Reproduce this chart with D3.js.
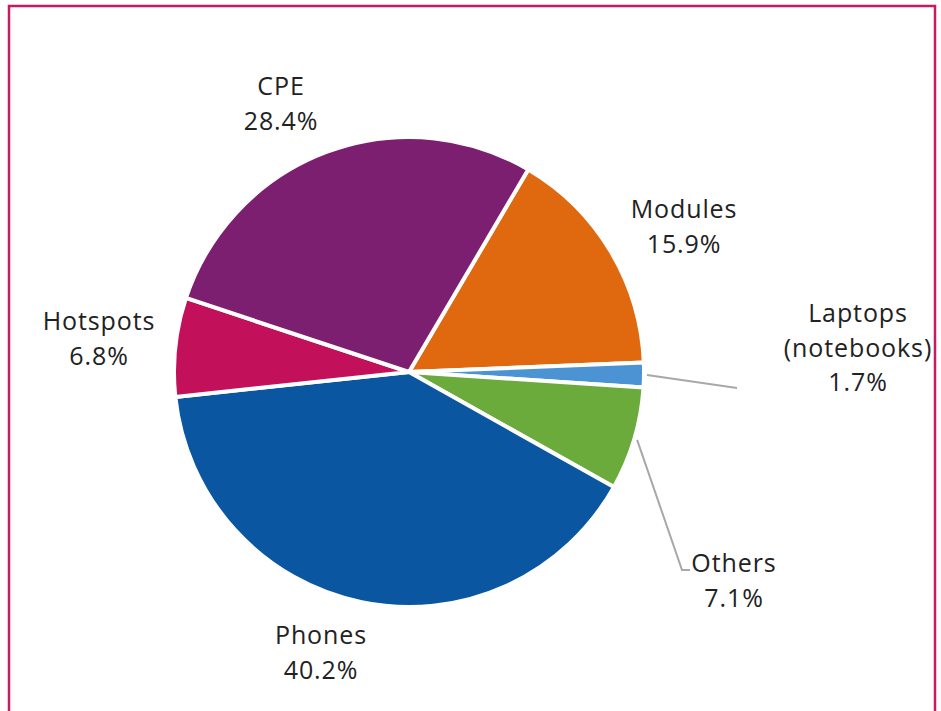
<!DOCTYPE html>
<html>
<head>
<meta charset="utf-8">
<script src="https://cdn.jsdelivr.net/npm/d3@7"></script>
<style>
  html, body { margin: 0; padding: 0; background: #fff; }
  svg { display: block; }
  text { font-family: "Open Sans", "Noto Sans", sans-serif; fill: #222; }
</style>
</head>
<body>
<svg id="chart" width="941" height="711"></svg>
<script>
// Shipment share by device type (%), clockwise from the CPE/Modules boundary
const categories = ["Modules", "Laptops", "Others", "Phones", "Hotspots", "CPE"];
const shares = [15.9, 1.7, 7.1, 40.2, 6.8, 28.4];
const labelLines = {
  Modules: ["Modules"],
  Laptops: ["Laptops", "(notebooks)"],
  Others: ["Others"],
  Phones: ["Phones"],
  Hotspots: ["Hotspots"],
  CPE: ["CPE"]
};
const colors = ["#e0690f", "#4b93d3", "#6aab3b", "#0a56a0", "#c3105a", "#7c1f70"];

const W = 941, H = 711;
const cx = 409, cy = 372, R = 235;
const startDeg = 30.5;

// Label anchor (text centre x, first baseline y) and optional leader elbow
const labelLayout = {
  CPE:      { x: 281, y: 95 },
  Modules:  { x: 684, y: 218 },
  Laptops:  { x: 858, y: 322, leader: [[737, 388]] },
  Others:   { x: 734, y: 572, leader: [[682, 570], [690, 570]] },
  Phones:   { x: 321, y: 644 },
  Hotspots: { x: 99,  y: 330 }
};
const lineGap = 34.5;

const svg = d3.select("#chart");

// Frame
svg.append("path")
  .attr("d", `M9,${H + 5} V6 H935 V${H + 5}`)
  .attr("fill", "none")
  .attr("stroke", "#c81a60")
  .attr("stroke-width", 2.5);

const color = d3.scaleOrdinal().domain(categories).range(colors);

const start = startDeg * Math.PI / 180;
const pie = d3.pie()
  .sort(null)
  .value(d => d.value)
  .startAngle(start)
  .endAngle(start + 2 * Math.PI);

const data = categories.map((c, i) => ({ name: c, value: shares[i] }));
const arcs = pie(data);

const arc = d3.arc().innerRadius(0).outerRadius(R);
const edgeArc = d3.arc().innerRadius(R + 3).outerRadius(R + 3);

const g = svg.append("g").attr("transform", `translate(${cx},${cy})`);

g.selectAll("path.slice")
  .data(arcs)
  .join("path")
  .attr("class", "slice")
  .attr("d", arc)
  .attr("fill", d => color(d.data.name))
  .attr("stroke", "#fff")
  .attr("stroke-width", 4)
  .attr("stroke-linejoin", "round");

// Leader lines for the small slices
arcs.forEach(d => {
  const lay = labelLayout[d.data.name];
  if (!lay.leader) return;
  const [px, py] = edgeArc.centroid(d);
  const pts = [[px + cx, py + cy]].concat(lay.leader);
  svg.append("path")
    .attr("d", d3.line()(pts))
    .attr("fill", "none")
    .attr("stroke", "#a8a8a8")
    .attr("stroke-width", 2);
});

// Labels: name lines followed by the share
arcs.forEach(d => {
  const lay = labelLayout[d.data.name];
  const lines = labelLines[d.data.name].concat([d3.format(".1f")(d.data.value) + "%"]);
  const t = svg.append("text")
    .attr("text-anchor", "middle")
    .attr("font-size", 25)
    .attr("letter-spacing", 0.9);
  lines.forEach((s, i) => {
    t.append("tspan")
      .attr("x", lay.x)
      .attr("y", lay.y + i * lineGap)
      .text(s);
  });
});
</script>
</body>
</html>
